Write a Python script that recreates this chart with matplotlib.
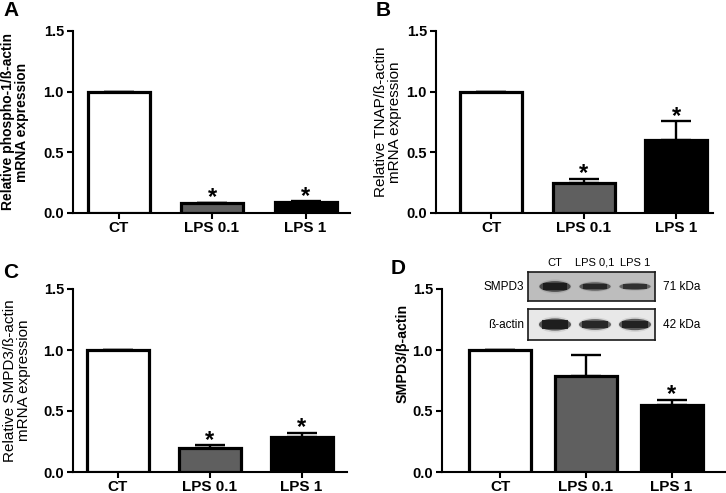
import matplotlib
import matplotlib.pyplot as plt
from matplotlib.patches import Ellipse, Rectangle

matplotlib.use("Agg")
plt.rcParams["font.family"] = ["Liberation Sans", "DejaVu Sans"]

# ---- data ----
categories = ["CT", "LPS 0.1", "LPS 1"]
bar_colors = ["white", "#5f5f5f", "black"]

phospho1_mean = [1.0, 0.08, 0.09]
phospho1_err = [0.0, 0.005, 0.005]
phospho1_sig = [False, True, True]

tnap_mean = [1.0, 0.25, 0.60]
tnap_err = [0.0, 0.03, 0.155]
tnap_sig = [False, True, True]

smpd3_mrna_mean = [1.0, 0.20, 0.29]
smpd3_mrna_err = [0.0, 0.02, 0.03]
smpd3_mrna_sig = [False, True, True]

smpd3_prot_mean = [1.0, 0.79, 0.55]
smpd3_prot_err = [0.0, 0.17, 0.04]
smpd3_prot_sig = [False, False, True]

yticks = [0.0, 0.5, 1.0, 1.5]

# western blot inset: band darkness and thickness per lane
blot_lanes = ["CT", "LPS 0,1", "LPS 1"]
smpd3_band = [1.00, 0.85, 0.75]
smpd3_band_h = [0.32, 0.25, 0.21]
actin_band = [1.00, 0.90, 0.95]
actin_band_h = [0.34, 0.30, 0.32]

W, H = 726, 493


def px_axes(left, top, right, bottom):
    return [left / W, (H - bottom) / H, (right - left) / W, (bottom - top) / H]


def draw_panel(ax, means, errs, sig, ylabel, letter, first_c, last_c,
               left, right, label_x, label_weight, label_size, label_y=0.5):
    x = list(range(len(categories)))
    span = (last_c - first_c) / 2.0
    ax.set_xlim(-(first_c - left) / span, 2 + (right - last_c) / span)
    ax.set_ylim(0, 1.5)
    ax.bar(x, means, width=62 / span, color=bar_colors, edgecolor="black",
           linewidth=2.3, zorder=3)
    lower = [0] * len(errs)
    ax.errorbar(x, means, yerr=[lower, errs], fmt="none", ecolor="black",
                elinewidth=1.7, capsize=10.5, capthick=1.7, zorder=2)
    for xi, m, e, s in zip(x, means, errs, sig):
        if s:
            ax.annotate("*", (xi, m + e), xytext=(0, -1), textcoords="offset points",
                        ha="center", va="baseline", fontsize=17, fontweight="bold")
    for side in ["top", "right"]:
        ax.spines[side].set_visible(False)
    for side in ["left", "bottom"]:
        ax.spines[side].set_linewidth(1.5)
    ax.set_yticks(yticks)
    ax.set_yticklabels([f"{t:.1f}" for t in yticks], fontsize=10.5, fontweight="bold")
    ax.set_xticks(x)
    ax.set_xticklabels(categories, fontsize=11, fontweight="bold")
    ax.tick_params(axis="both", direction="out", length=4, width=1.5, pad=2.5)
    ax.tick_params(axis="x", pad=1.5)
    ax.set_ylabel(ylabel, fontsize=label_size, fontweight=label_weight,
                  va="center", linespacing=1.0)
    ax.yaxis.set_label_coords(label_x, label_y)
    ax.text(0, 1.0, letter, transform=ax.transAxes,
            fontsize=15, fontweight="bold", ha="left", va="bottom")


fig = plt.figure(figsize=(W / 100, H / 100), dpi=100)

ax_a = fig.add_axes(px_axes(73, 31, 350, 213))
draw_panel(ax_a, phospho1_mean, phospho1_err, phospho1_sig,
           "Relative phospho-1/ß-actin\nmRNA expression", "A",
           118.5, 305.5, 73, 350, -0.21, "bold", 10)
ax_a.texts[-1].set_position((-70 / 277, 1.06))

ax_b = fig.add_axes(px_axes(436, 31, 713, 213))
draw_panel(ax_b, tnap_mean, tnap_err, tnap_sig,
           "Relative TNAP/ß-actin\nmRNA expression", "B",
           491, 676, 436, 713, -0.175, "normal", 11)
ax_b.texts[-1].set_position((-60 / 277, 1.06))

ax_c = fig.add_axes(px_axes(73, 289, 347, 472))
draw_panel(ax_c, smpd3_mrna_mean, smpd3_mrna_err, smpd3_mrna_sig,
           "Relative SMPD3/ß-actin\nmRNA expression", "C",
           118, 301.5, 73, 347, -0.203, "normal", 11)
ax_c.texts[-1].set_position((-70 / 274, 1.04))

ax_d = fig.add_axes(px_axes(442, 289, 725, 472))
draw_panel(ax_d, smpd3_prot_mean, smpd3_prot_err, smpd3_prot_sig,
           "SMPD3/β-actin", "D",
           500, 671.5, 442, 725, -0.138, "bold", 10.2, label_y=0.65)
ax_d.texts[-1].set_position((-51 / 283, 1.06))

# ---- western blot inset ----
lane_x = [0, 1, 2]
blot_xlim = (-27 / 40, 100 / 40)


def draw_blot(ax, intensity, heights, bg, name, kda, band_w):
    ax.set_xlim(*blot_xlim)
    ax.set_ylim(0, 1)
    ax.set_facecolor(bg)
    ax.set_xticks([])
    ax.set_yticks([])
    for sp in ax.spines.values():
        sp.set_linewidth(1.2)
        sp.set_color("#1a1a1a")
    for lx, inten, bh in zip(lane_x, intensity, heights):
        # faint smear, then band body, then dark core
        ax.add_patch(Ellipse((lx, 0.5), band_w * 1.04, bh * 1.5,
                             color="#333333", alpha=0.12 * inten, lw=0))
        ax.add_patch(Ellipse((lx, 0.5), band_w, bh * 1.15,
                             color="#1e1e1e", alpha=0.7 * inten, lw=0))
        ax.add_patch(Rectangle((lx - band_w * 0.4, 0.5 - bh * 0.4), band_w * 0.8,
                               bh * 0.8, color="#151515", alpha=0.85 * inten, lw=0))
    ax.text(-0.03, 0.5, name, transform=ax.transAxes, ha="right", va="center",
            fontsize=8.5)
    ax.text(1.06, 0.5, kda, transform=ax.transAxes, ha="left", va="center",
            fontsize=8.5)


blot_top = fig.add_axes(px_axes(528, 272, 655, 301))
draw_blot(blot_top, smpd3_band, smpd3_band_h, "#bdbdbd", "SMPD3", "71 kDa", 0.78)
for lx, name in zip(lane_x, blot_lanes):
    blot_top.text(lx, 1.15, name, ha="center", va="bottom", fontsize=8)

blot_bot = fig.add_axes(px_axes(528, 309, 655, 340))
draw_blot(blot_bot, actin_band, actin_band_h, "#e8e8e8", "ß-actin", "42 kDa", 0.8)

fig.savefig("out.png", dpi=100)
plt.close(fig)
